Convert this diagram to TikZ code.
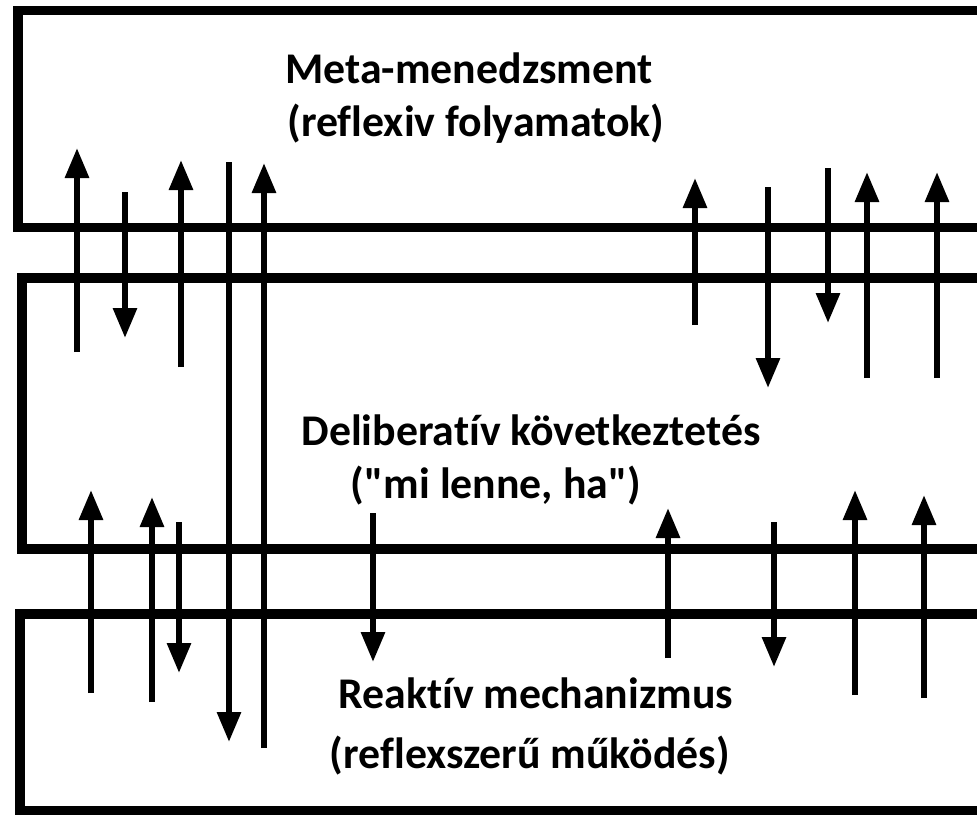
\documentclass[tikz,border=0pt]{standalone}
\usepackage{fontspec}
\setmainfont[Ligatures={NoCommon,TeXOff}]{Carlito}
\usetikzlibrary{arrows.meta}
\begin{document}
\begin{tikzpicture}[x=0.5pt,y=-0.5pt,
  layer/.style={draw=black,line width=4.6pt,line join=miter},
  flow/.style={line width=3pt,-{Triangle[length=15pt,width=11.5pt]}},
  label/.style={anchor=base,inner sep=0pt,font=\fontsize{21.9}{26}\selectfont\bfseries}]
\useasboundingbox (0,0) rectangle (977,814);
\clip (0,0) rectangle (977,814);

% three layers, open towards the right
\draw[layer] (1010,10.5) -- (18,10.5) -- (18,227.5) -- (1010,227.5);
\draw[layer] (1010,278) -- (22,278) -- (22,549) -- (1010,549);
\draw[layer] (1010,614) -- (20,614) -- (20,811) -- (1010,811);

% layer titles
\node[label] (meta1) at (469,83) {Meta-menedzsment};
\node[label] (meta2) at (476,136) {(reflexiv folyamatok)};
\node[label] (del1) at (531,445) {Deliberatív következtetés};
\node[label] (del2) at (496,498) {("mi lenne, ha")};
\node[label] (rea1) at (536,708) {Reaktív mechanizmus};
\node[label] (rea2) at (530,768) {(reflexszerű működés)};

% signal flows between the layers: x / start y / tip y
\foreach \x/\ya/\yb in {
   77/352/148, 125/192/338, 181/367/160, 229/162/742, 264/748/163,
   695/325/178, 768/187/388, 828/168/323, 867/378/172, 937/378/172,
   91/693/490, 152/702/497, 179/522/673, 373/513/662,
   668/658/508, 774/522/667, 855/695/490, 924/698/495}
  \draw[flow] (\x,\ya) -- (\x,\yb);
\end{tikzpicture}
\end{document}
